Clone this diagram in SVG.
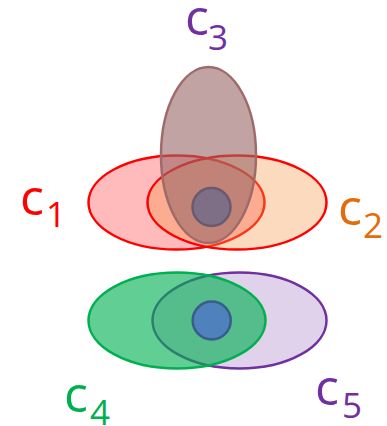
<svg xmlns="http://www.w3.org/2000/svg" width="387" height="426" viewBox="0 0 387 426">
<style>
.lbl{font-family:"Open Sans","Liberation Sans",sans-serif;font-size:50px}
.sub{font-family:"Open Sans","Liberation Sans",sans-serif;font-size:35px}
.s{stroke-width:2.5}
</style>
<rect width="387" height="426" fill="#FFFFFF"/>
<g id="c1">
<ellipse class="s" cx="176.5" cy="202.5" rx="88" ry="47" fill="#FFBBBB" stroke="#FF0000"/>
<text class="lbl" x="20" y="215" fill="#FF0000">c</text>
<text class="sub" x="46" y="227" fill="#FF0000">1</text>
</g>
<g id="c2">
<ellipse class="s" cx="237" cy="202.5" rx="89.5" ry="47" fill="#F79646" fill-opacity="0.35" stroke="#FF0000"/>
<text class="lbl" x="338" y="225" fill="#E46C0A">c</text>
<text class="sub" x="363" y="238" fill="#E46C0A">2</text>
</g>
<g id="c3">
<ellipse class="s" cx="208.5" cy="155" rx="47.5" ry="88" fill="#996666" fill-opacity="0.6" stroke="#A06A6A"/>
<text class="lbl" x="185" y="35" fill="#7030A0">c</text>
<text class="sub" x="208" y="50" fill="#7030A0">3</text>
</g>
<g id="core-top">
<circle class="s" cx="211.5" cy="207" r="19" fill="#7F6F86" stroke="#6A5A6E"/>
</g>
<g id="c5">
<ellipse class="s" cx="239.5" cy="320.5" rx="87" ry="48" fill="#E0D2EA" stroke="#7030A0"/>
<text class="lbl" x="315" y="405" fill="#7030A0">c</text>
<text class="sub" x="342" y="418" fill="#7030A0">5</text>
</g>
<g id="c4">
<ellipse class="s" cx="177" cy="320.5" rx="88.5" ry="48" fill="#00B050" fill-opacity="0.62" stroke="#00B050"/>
<text class="lbl" x="64" y="412" fill="#00B050">c</text>
<text class="sub" x="90" y="425" fill="#00B050">4</text>
</g>
<g id="core-bottom">
<circle class="s" cx="211.7" cy="320.5" r="19" fill="#4F81BD" stroke="#385D8A"/>
</g>
</svg>
